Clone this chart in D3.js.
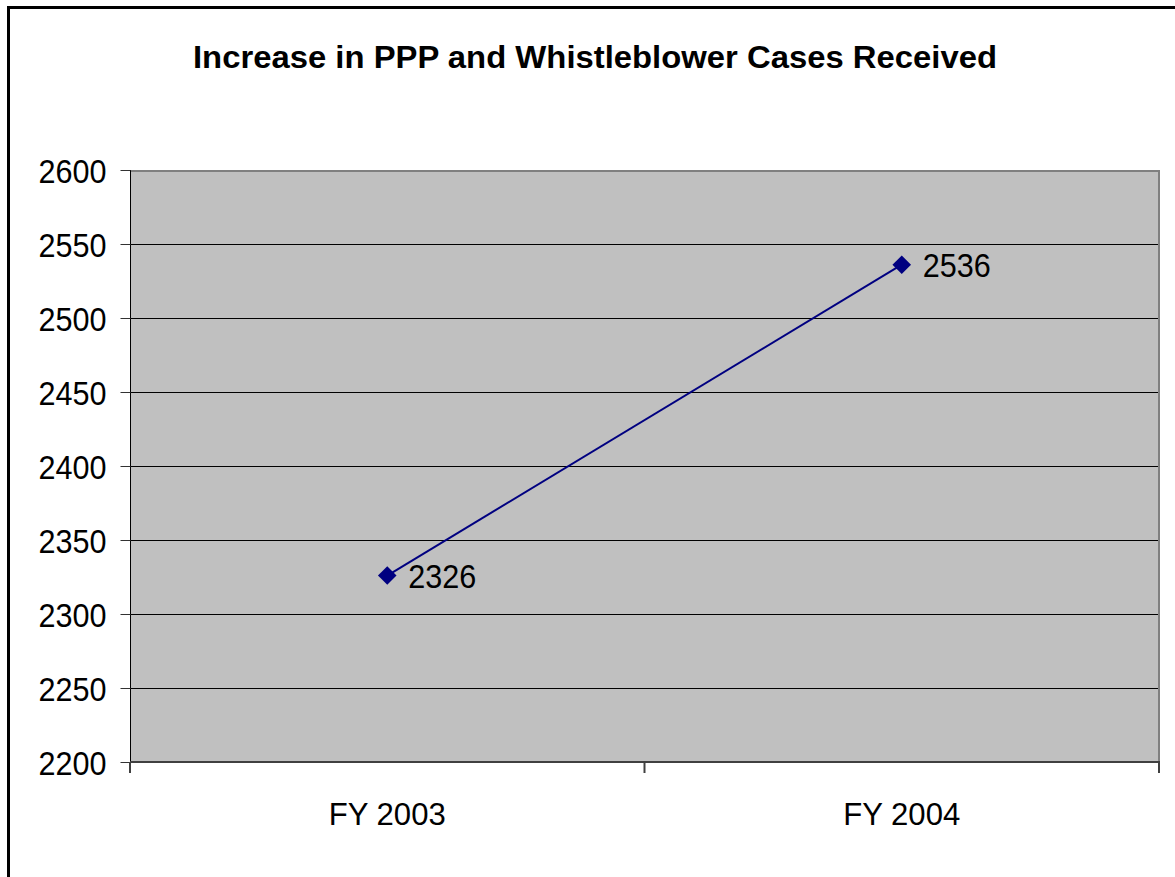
<!DOCTYPE html>
<html>
<head>
<meta charset="utf-8">
<script src="https://cdn.jsdelivr.net/npm/d3@7"></script>
<style>
  body { margin: 0; background: #fff; }
  svg { display: block; font-family: "Liberation Sans", Arial, sans-serif; }
</style>
</head>
<body>
<svg id="chart" width="1175" height="877"></svg>
<script>
// chart data
const title = "Increase in PPP and Whistleblower Cases Received";
const categories = ["FY 2003", "FY 2004"];
const cases = [2326, 2536];
const yTicks = [2200, 2250, 2300, 2350, 2400, 2450, 2500, 2550, 2600];

const svg = d3.select("#chart");

// outer frame (only top and left edges show in the picture)
svg.append("rect")
  .attr("x", 8.5).attr("y", 7.5)
  .attr("width", 1200).attr("height", 900)
  .attr("fill", "none")
  .attr("stroke", "#000")
  .attr("stroke-width", 3);

svg.append("text")
  .attr("x", 595).attr("y", 68)
  .attr("text-anchor", "middle")
  .attr("font-size", 32)
  .attr("font-weight", "bold")
  .attr("textLength", 804)
  .attr("lengthAdjust", "spacingAndGlyphs")
  .text(title);

const pLeft = 130, pRight = 1159, pTop = 170, pBottom = 762;

const x = d3.scaleBand().domain(categories).range([pLeft, pRight]);
const y = d3.scaleLinear().domain([2200, 2600]).range([pBottom, pTop]);

// plot area
svg.append("rect")
  .attr("x", pLeft).attr("y", pTop)
  .attr("width", pRight - pLeft).attr("height", pBottom - pTop)
  .attr("fill", "#c0c0c0");

// gridlines
svg.append("g")
  .selectAll("line")
  .data(yTicks.slice(1, -1))
  .join("line")
  .attr("x1", pLeft).attr("x2", pRight)
  .attr("y1", d => Math.round(y(d)) + 0.5)
  .attr("y2", d => Math.round(y(d)) + 0.5)
  .attr("stroke", "#000");

// top and right border of plot area
svg.append("path")
  .attr("d", `M${pLeft},${pTop + 1}H${pRight}V${pBottom}`)
  .attr("fill", "none")
  .attr("stroke", "#808080")
  .attr("stroke-width", 2);

// y axis
const yAxis = d3.axisLeft(y).tickValues(yTicks).tickFormat(d3.format("d"))
  .tickSize(10).tickPadding(14).tickSizeOuter(0);
const yg = svg.append("g")
  .attr("transform", `translate(${pLeft + 0.5},0)`)
  .call(yAxis);
yg.select(".domain").attr("stroke", "#000").attr("d", `M0,${pTop}V${pBottom + 11}`);
yg.selectAll(".tick line").attr("stroke", "#333");
yg.selectAll(".tick text")
  .attr("font-size", 34)
  .attr("font-family", "Liberation Sans, Arial, sans-serif")
  .attr("fill", "#000")
  .attr("textLength", 68)
  .attr("lengthAdjust", "spacingAndGlyphs")
  .attr("dy", "0.36em");

// x axis
const xAxis = d3.axisBottom(x).tickSize(0).tickPadding(0);
const xg = svg.append("g")
  .attr("transform", `translate(0,${pBottom})`)
  .call(xAxis);
xg.select(".domain").remove();
xg.selectAll(".tick text")
  .attr("font-size", 32)
  .attr("font-family", "Liberation Sans, Arial, sans-serif")
  .attr("fill", "#000")
  .attr("textLength", 117)
  .attr("lengthAdjust", "spacingAndGlyphs")
  .attr("y", 63)
  .attr("dy", 0);

// bottom axis line and category separators
svg.append("line")
  .attr("x1", pLeft).attr("x2", pRight + 1)
  .attr("y1", pBottom).attr("y2", pBottom)
  .attr("stroke", "#404040").attr("stroke-width", 2);
svg.append("g")
  .selectAll("line")
  .data(categories.concat(["end"]))
  .join("line")
  .attr("x1", (d, i) => i < categories.length ? x(d) : pRight)
  .attr("x2", (d, i) => i < categories.length ? x(d) : pRight)
  .attr("y1", pBottom).attr("y2", pBottom + 11)
  .attr("stroke", "#404040").attr("stroke-width", 2);

// series
const pts = categories.map((c, i) => ({ c, v: cases[i] }));
svg.append("path")
  .datum(pts)
  .attr("fill", "none")
  .attr("stroke", "#000080")
  .attr("stroke-width", 2)
  .attr("d", d3.line().x(d => x(d.c) + x.bandwidth() / 2).y(d => y(d.v)));

svg.append("g")
  .selectAll("path")
  .data(pts)
  .join("path")
  .attr("transform", d => `translate(${x(d.c) + x.bandwidth() / 2},${y(d.v)})`)
  .attr("d", d3.symbol(d3.symbolDiamond2, 220))
  .attr("fill", "#000080");

svg.append("g")
  .selectAll("text")
  .data(pts)
  .join("text")
  .attr("x", d => x(d.c) + x.bandwidth() / 2 + 21)
  .attr("y", d => y(d.v))
  .attr("dy", "0.36em")
  .attr("font-size", 34)
  .attr("textLength", 68)
  .attr("lengthAdjust", "spacingAndGlyphs")
  .text(d => d.v);
</script>
</body>
</html>
